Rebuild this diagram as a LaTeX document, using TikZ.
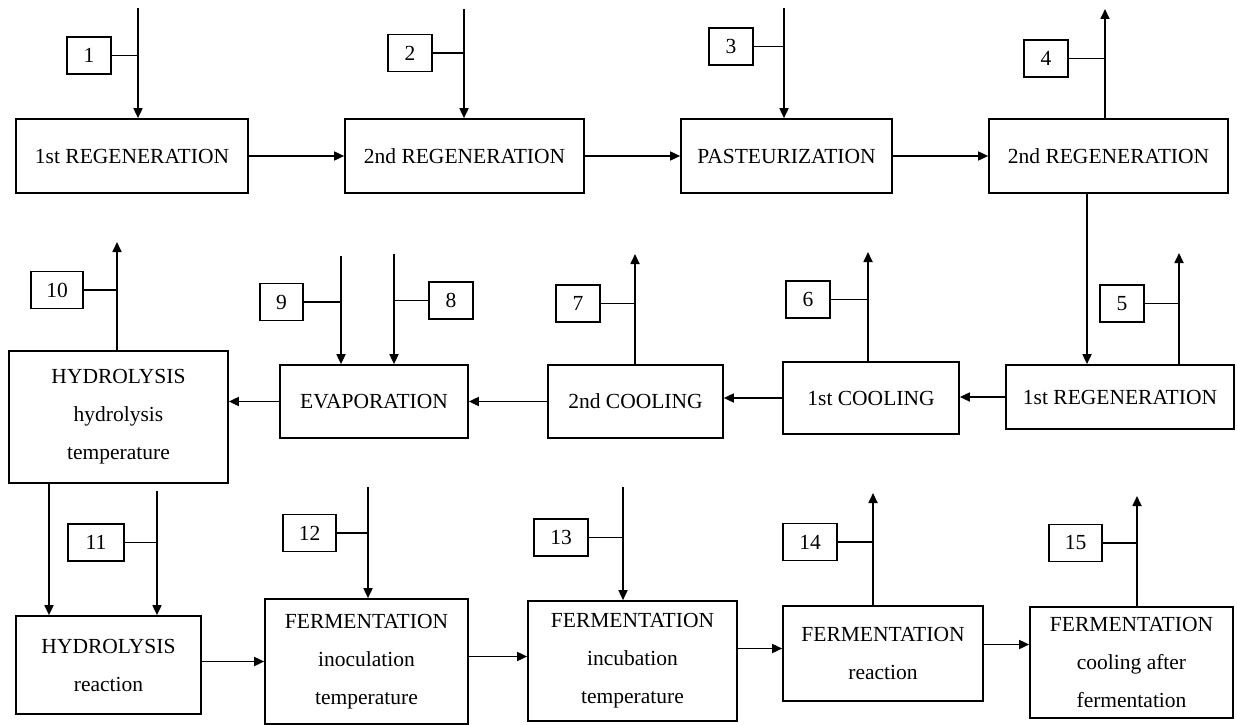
\documentclass[tikz,border=0pt]{standalone}
\usepackage{fontspec}
\setmainfont{Liberation Serif}
\usetikzlibrary{arrows.meta}
\begin{document}
\begin{tikzpicture}[x=1pt,y=-1pt,
  every node/.style={font=\fontsize{21.5}{38}\selectfont},
  proc/.style={draw, line width=1.7pt, inner sep=0pt, align=center},
  num/.style={draw, line width=1.7pt, inner sep=0pt, minimum height=37pt, minimum width=44pt},
  numw/.style={num, minimum width=54pt},
  flow/.style={line width=1.7pt, -{Triangle[length=10pt,width=9pt]}},
  tick/.style={line width=1.7pt}]
\useasboundingbox (0,0) rectangle (1237,725);
% process boxes
\node[proc, minimum width=232pt, minimum height=74pt] (A) at (132,156) {1st REGENERATION};
\node[proc, minimum width=239pt, minimum height=74pt] (B) at (464.5,156) {2nd REGENERATION};
\node[proc, minimum width=211pt, minimum height=74pt] (C) at (786.5,156) {PASTEURIZATION};
\node[proc, minimum width=239pt, minimum height=74pt] (D) at (1108.5,156) {2nd REGENERATION};
\node[proc, minimum width=228pt, minimum height=64pt] (E) at (1120,397) {1st REGENERATION};
\node[proc, minimum width=176pt, minimum height=72pt] (F) at (871,398) {1st COOLING};
\node[proc, minimum width=175pt, minimum height=73pt] (G) at (635.5,401.5) {2nd COOLING};
\node[proc, minimum width=188pt, minimum height=73pt] (H) at (374,401.5) {EVAPORATION};
\node[proc, minimum width=219pt, minimum height=132pt] (I) at (118.5,417) {HYDROLYSIS\\hydrolysis\\temperature};
\node[proc, minimum width=185pt, minimum height=98pt] (J) at (108.5,665) {HYDROLYSIS\\reaction};
\node[proc, minimum width=203pt, minimum height=125pt] (K) at (366.5,661.5) {FERMENTATION\\inoculation\\temperature};
\node[proc, minimum width=209pt, minimum height=120pt] (L) at (632.5,661) {FERMENTATION\\incubation\\temperature};
\node[proc, minimum width=200pt, minimum height=95pt] (M) at (883,653.5) {FERMENTATION\\reaction};
\node[proc, minimum width=203pt, minimum height=111pt] (N) at (1131.5,662.5) {FERMENTATION\\cooling after\\fermentation};
% number boxes
\node[num] (n1) at (89,55.5) {1};
\node[num] (n2) at (410,53) {2};
\node[num] (n3) at (731,46.5) {3};
\node[num] (n4) at (1046,58.5) {4};
\node[num] (n5) at (1122,303.5) {5};
\node[num] (n6) at (808,299.5) {6};
\node[num] (n7) at (578,303.5) {7};
\node[num] (n8) at (451,300.5) {8};
\node[num, minimum width=43pt] (n9) at (281.5,302) {9};
\node[numw, minimum width=52pt] (n10) at (57,290) {10};
\node[numw, minimum width=56pt] (n11) at (96,542.5) {11};
\node[numw, minimum width=53pt] (n12) at (309.5,533) {12};
\node[numw] (n13) at (561,537.5) {13};
\node[numw] (n14) at (810,542) {14};
\node[numw, minimum width=53pt] (n15) at (1075.5,543) {15};
% line end points
\coordinate (t1) at (138,8);
\coordinate (t2) at (464,9);
\coordinate (t3) at (784,8);
\coordinate (t4) at (1105,9);
\coordinate (t5) at (1179,253);
\coordinate (t6) at (868,252);
\coordinate (t7) at (635,254);
\coordinate (t8) at (394,254);
\coordinate (t9) at (341,256);
\coordinate (t10) at (117,242);
\coordinate (t11) at (157,491);
\coordinate (t12) at (368,487);
\coordinate (t13) at (623,487);
\coordinate (t14) at (873,493);
\coordinate (t15) at (1137,496);
\coordinate (dD) at (1087,193);
\coordinate (dI) at (49,483);
% inputs
\draw[flow] (t1) -- (t1 |- A.north);
\draw[flow] (t2) -- (t2 |- B.north);
\draw[flow] (t3) -- (t3 |- C.north);
\draw[flow] (t8) -- (t8 |- H.north);
\draw[flow] (t9) -- (t9 |- H.north);
\draw[flow] (t11) -- (t11 |- J.north);
\draw[flow] (t12) -- (t12 |- K.north);
\draw[flow] (t13) -- (t13 |- L.north);
% outputs
\draw[flow] (t4 |- D.north) -- (t4);
\draw[flow] (t5 |- E.north) -- (t5);
\draw[flow] (t6 |- F.north) -- (t6);
\draw[flow] (t7 |- G.north) -- (t7);
\draw[flow] (t10 |- I.north) -- (t10);
\draw[flow] (t14 |- M.north) -- (t14);
\draw[flow] (t15 |- N.north) -- (t15);
% ticks
\draw[tick] (n1.east) -- (n1.east -| t1);
\draw[tick] (n2.east) -- (n2.east -| t2);
\draw[tick] (n3.east) -- (n3.east -| t3);
\draw[tick] (n4.east) -- (n4.east -| t4);
\draw[tick] (n5.east) -- (n5.east -| t5);
\draw[tick] (n6.east) -- (n6.east -| t6);
\draw[tick] (n7.east) -- (n7.east -| t7);
\draw[tick] (n8.west) -- (n8.west -| t8);
\draw[tick] (n9.east) -- (n9.east -| t9);
\draw[tick] (n10.east) -- (n10.east -| t10);
\draw[tick] (n11.east) -- (n11.east -| t11);
\draw[tick] (n12.east) -- (n12.east -| t12);
\draw[tick] (n13.east) -- (n13.east -| t13);
\draw[tick] (n14.east) -- (n14.east -| t14);
\draw[tick] (n15.east) -- (n15.east -| t15);
% main flow
\draw[flow] (A.east) -- (A.east -| B.west);
\draw[flow] (B.east) -- (B.east -| C.west);
\draw[flow] (C.east) -- (C.east -| D.west);
\draw[flow] (dD |- D.south) -- (dD |- E.north);
\draw[flow] (E.west) -- (E.west -| F.east);
\draw[flow] (F.west) -- (F.west -| G.east);
\draw[flow] (G.west) -- (G.west -| H.east);
\draw[flow] (H.west) -- (H.west -| I.east);
\draw[flow] (dI |- I.south) -- (dI |- J.north);
\draw[flow] (K.west -| J.east) -- (K.west);
\draw[flow] ([yshift=5pt]K.east) -- ([yshift=5pt]K.east -| L.west);
\draw[flow] ([yshift=5pt]M.west -| L.east) -- ([yshift=5pt]M.west);
\draw[flow] ([yshift=9pt]M.east) -- ([yshift=9pt]M.east -| N.west);
\end{tikzpicture}
\end{document}
